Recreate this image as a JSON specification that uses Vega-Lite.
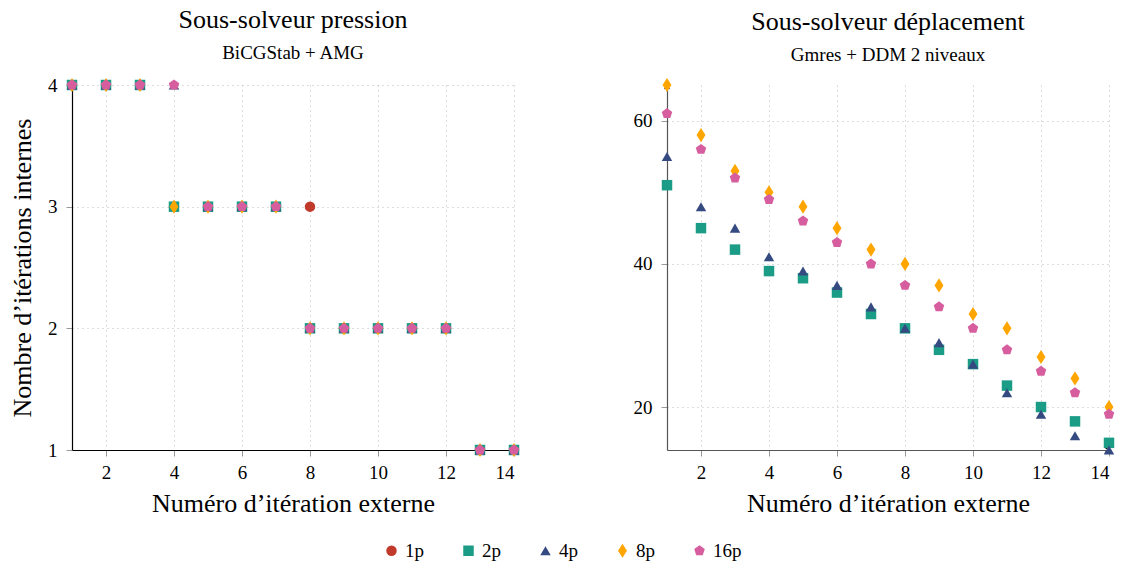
{
  "$schema": "https://vega.github.io/schema/vega-lite/v6.json",
  "padding": {"left": 9, "top": 7, "right": 5, "bottom": 0},
  "datasets": {
    "pression": [
      {"x":1,"s":"1p","y":4},{"x":2,"s":"1p","y":4},{"x":3,"s":"1p","y":4},{"x":4,"s":"1p","y":3},{"x":5,"s":"1p","y":3},{"x":6,"s":"1p","y":3},{"x":7,"s":"1p","y":3},{"x":8,"s":"1p","y":3},{"x":9,"s":"1p","y":2},{"x":10,"s":"1p","y":2},{"x":11,"s":"1p","y":2},{"x":12,"s":"1p","y":2},{"x":13,"s":"1p","y":1},{"x":14,"s":"1p","y":1},
      {"x":1,"s":"2p","y":4},{"x":2,"s":"2p","y":4},{"x":3,"s":"2p","y":4},{"x":4,"s":"2p","y":3},{"x":5,"s":"2p","y":3},{"x":6,"s":"2p","y":3},{"x":7,"s":"2p","y":3},{"x":8,"s":"2p","y":2},{"x":9,"s":"2p","y":2},{"x":10,"s":"2p","y":2},{"x":11,"s":"2p","y":2},{"x":12,"s":"2p","y":2},{"x":13,"s":"2p","y":1},{"x":14,"s":"2p","y":1},
      {"x":1,"s":"4p","y":4},{"x":2,"s":"4p","y":4},{"x":3,"s":"4p","y":4},{"x":4,"s":"4p","y":4},{"x":5,"s":"4p","y":3},{"x":6,"s":"4p","y":3},{"x":7,"s":"4p","y":3},{"x":8,"s":"4p","y":2},{"x":9,"s":"4p","y":2},{"x":10,"s":"4p","y":2},{"x":11,"s":"4p","y":2},{"x":12,"s":"4p","y":2},{"x":13,"s":"4p","y":1},{"x":14,"s":"4p","y":1},
      {"x":1,"s":"8p","y":4},{"x":2,"s":"8p","y":4},{"x":3,"s":"8p","y":4},{"x":4,"s":"8p","y":3},{"x":5,"s":"8p","y":3},{"x":6,"s":"8p","y":3},{"x":7,"s":"8p","y":3},{"x":8,"s":"8p","y":2},{"x":9,"s":"8p","y":2},{"x":10,"s":"8p","y":2},{"x":11,"s":"8p","y":2},{"x":12,"s":"8p","y":2},{"x":13,"s":"8p","y":1},{"x":14,"s":"8p","y":1},
      {"x":1,"s":"16p","y":4},{"x":2,"s":"16p","y":4},{"x":3,"s":"16p","y":4},{"x":4,"s":"16p","y":4},{"x":5,"s":"16p","y":3},{"x":6,"s":"16p","y":3},{"x":7,"s":"16p","y":3},{"x":8,"s":"16p","y":2},{"x":9,"s":"16p","y":2},{"x":10,"s":"16p","y":2},{"x":11,"s":"16p","y":2},{"x":12,"s":"16p","y":2},{"x":13,"s":"16p","y":1},{"x":14,"s":"16p","y":1}
    ],
    "deplacement": [
      {"x":1,"s":"2p","y":51},{"x":2,"s":"2p","y":45},{"x":3,"s":"2p","y":42},{"x":4,"s":"2p","y":39},{"x":5,"s":"2p","y":38},{"x":6,"s":"2p","y":36},{"x":7,"s":"2p","y":33},{"x":8,"s":"2p","y":31},{"x":9,"s":"2p","y":28},{"x":10,"s":"2p","y":26},{"x":11,"s":"2p","y":23},{"x":12,"s":"2p","y":20},{"x":13,"s":"2p","y":18},{"x":14,"s":"2p","y":15},
      {"x":1,"s":"4p","y":55},{"x":2,"s":"4p","y":48},{"x":3,"s":"4p","y":45},{"x":4,"s":"4p","y":41},{"x":5,"s":"4p","y":39},{"x":6,"s":"4p","y":37},{"x":7,"s":"4p","y":34},{"x":8,"s":"4p","y":31},{"x":9,"s":"4p","y":29},{"x":10,"s":"4p","y":26},{"x":11,"s":"4p","y":22},{"x":12,"s":"4p","y":19},{"x":13,"s":"4p","y":16},{"x":14,"s":"4p","y":14},
      {"x":1,"s":"8p","y":65},{"x":2,"s":"8p","y":58},{"x":3,"s":"8p","y":53},{"x":4,"s":"8p","y":50},{"x":5,"s":"8p","y":48},{"x":6,"s":"8p","y":45},{"x":7,"s":"8p","y":42},{"x":8,"s":"8p","y":40},{"x":9,"s":"8p","y":37},{"x":10,"s":"8p","y":33},{"x":11,"s":"8p","y":31},{"x":12,"s":"8p","y":27},{"x":13,"s":"8p","y":24},{"x":14,"s":"8p","y":20},
      {"x":1,"s":"16p","y":61},{"x":2,"s":"16p","y":56},{"x":3,"s":"16p","y":52},{"x":4,"s":"16p","y":49},{"x":5,"s":"16p","y":46},{"x":6,"s":"16p","y":43},{"x":7,"s":"16p","y":40},{"x":8,"s":"16p","y":37},{"x":9,"s":"16p","y":34},{"x":10,"s":"16p","y":31},{"x":11,"s":"16p","y":28},{"x":12,"s":"16p","y":25},{"x":13,"s":"16p","y":22},{"x":14,"s":"16p","y":19}
    ]
  },
  "spacing": 113,
  "hconcat": [
    {
      "title": {"text": "Sous-solveur pression", "subtitle": "BiCGStab + AMG"},
      "width": 442,
      "height": 365,
      "encoding": {
        "x": {"field": "x", "type": "quantitative", "scale": {"domain": [1, 14], "nice": false, "zero": false},
              "axis": {"values": [2,4,6,8,10,12,14], "title": "Numéro d’itération externe"}},
        "y": {"field": "y", "type": "quantitative", "scale": {"domain": [1, 4], "nice": false, "zero": false},
              "axis": {"values": [1,2,3,4], "title": "Nombre d’itérations internes"}}
      },
      "layer": [
        {
          "data": {"values": [{"x": 1, "y": 4}]},
          "mark": {"type": "point", "filled": false, "color": "#000", "strokeWidth": 1, "size": 120, "opacity": 1, "shape": "M-0.45,0.75L0,0L0.45,0.75"}
        },
        {
          "data": {"values": [{"x": 14, "y": 1}]},
          "mark": {"type": "point", "filled": false, "color": "#000", "strokeWidth": 1, "size": 120, "opacity": 1, "shape": "M-0.75,-0.45L0,0L-0.75,0.45"}
        },
        {
          "data": {"name": "pression"},
          "mark": {"type": "point", "filled": true, "opacity": 1, "size": 110},
          "encoding": {
            "color": {"field": "s", "type": "nominal", "scale": {"domain": ["1p","2p","4p","8p","16p"], "range": ["#c0392b","#1a9c86","#354a80","#ffa500","#d65d9e"]}, "legend": {"title": null}},
            "shape": {"field": "s", "type": "nominal", "scale": {"domain": ["1p","2p","4p","8p","16p"], "range": ["circle","square","triangle-up","M0,-1.35L0.85,0L0,1.35L-0.85,0Z","M0,-1.05L1,-0.32L0.62,0.85L-0.62,0.85L-1,-0.32Z"]}, "legend": {"title": null}}
          }
        }
      ]
    },
    {
      "title": {"text": "Sous-solveur déplacement", "subtitle": "Gmres + DDM 2 niveaux"},
      "width": 442,
      "height": 365,
      "encoding": {
        "x": {"field": "x", "type": "quantitative", "scale": {"domain": [1, 14], "nice": false, "zero": false},
              "axis": {"values": [2,4,6,8,10,12,14], "title": "Numéro d’itération externe", "domainColor": "#555"}},
        "y": {"field": "y", "type": "quantitative", "scale": {"domain": [14, 65], "nice": false, "zero": false},
              "axis": {"values": [20,40,60], "title": null, "domainColor": "#555"}}
      },
      "layer": [
        {
          "data": {"values": [{"x": 1, "y": 65}]},
          "mark": {"type": "point", "filled": false, "color": "#000", "strokeWidth": 1, "size": 120, "opacity": 1, "shape": "M-0.45,0.75L0,0L0.45,0.75"}
        },
        {
          "data": {"values": [{"x": 14, "y": 14}]},
          "mark": {"type": "point", "filled": false, "color": "#000", "strokeWidth": 1, "size": 120, "opacity": 1, "shape": "M-0.75,-0.45L0,0L-0.75,0.45"}
        },
        {
          "data": {"name": "deplacement"},
          "mark": {"type": "point", "filled": true, "opacity": 1, "size": 110},
          "encoding": {
            "color": {"field": "s", "type": "nominal", "scale": {"domain": ["1p","2p","4p","8p","16p"], "range": ["#c0392b","#1a9c86","#354a80","#ffa500","#d65d9e"]}, "legend": {"title": null}},
            "shape": {"field": "s", "type": "nominal", "scale": {"domain": ["1p","2p","4p","8p","16p"], "range": ["circle","square","triangle-up","M0,-1.35L0.85,0L0,1.35L-0.85,0Z","M0,-1.05L1,-0.32L0.62,0.85L-0.62,0.85L-1,-0.32Z"]}, "legend": {"title": null}}
          }
        }
      ]
    }
  ],
  "config": {
    "font": "Liberation Serif",
    "view": {"stroke": null},
    "title": {"font": "Liberation Serif", "fontSize": 26, "fontWeight": "normal", "color": "#000", "subtitleFont": "Liberation Serif", "subtitleFontSize": 19, "subtitleColor": "#000", "subtitlePadding": 11, "offset": 13, "anchor": "middle"},
    "axis": {
      "labelFont": "Liberation Serif", "labelFontSize": 19, "labelColor": "#000", "labelPadding": 9,
      "titleFont": "Liberation Serif", "titleFontSize": 26, "titleFontWeight": "normal", "titleColor": "#000",
      "domainColor": "#000", "domainWidth": 1.2,
      "tickColor": "#999", "tickSize": 6,
      "gridColor": "#bbb", "gridDash": [1, 4], "gridWidth": 1
    },
    "axisX": {"titlePadding": 8, "labelPadding": 7},
    "axisY": {"titlePadding": 12},
    "legend": {"orient": "bottom", "direction": "horizontal", "labelFont": "Liberation Serif", "labelFontSize": 19, "labelColor": "#000", "symbolSize": 110, "labelOffset": 4, "columnPadding": 25, "gridAlign": "all", "padding": 0, "offset": 25,
      "layout": {"bottom": {"anchor": "middle"}}}
  }
}
